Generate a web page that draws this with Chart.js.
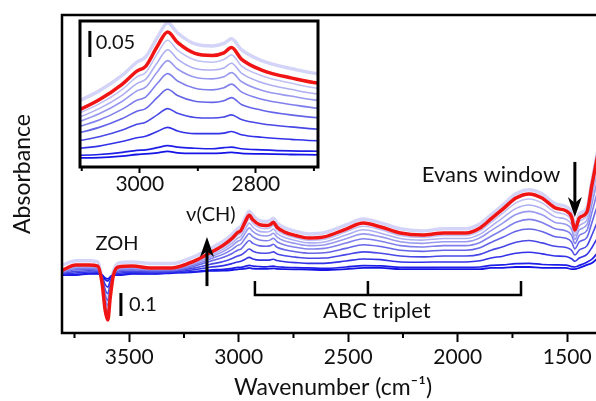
<!DOCTYPE html>
<html>
<head>
<meta charset="utf-8">
<script src="https://cdn.jsdelivr.net/npm/chart.js@4.4.1/dist/chart.umd.min.js"></script>
<style>
  html, body { margin: 0; padding: 0; background: #fff; overflow: hidden; }
  #wrap { position: relative; width: 596px; height: 401px; overflow: hidden; }
  #main { position: absolute; left: 0; top: 0; }
  #inset { position: absolute; left: 70px; top: 11px; }
</style>
</head>
<body>
<div id="wrap">
  <canvas id="main" width="604" height="401"></canvas>
  <canvas id="inset" width="260" height="190"></canvas>
</div>
<script>
// wavenumber (cm-1)
const wavenumbers = [3804, 3744, 3684, 3644, 3624, 3610, 3598, 3587, 3573, 3550, 3485, 3404, 3304, 3204, 3133,
  3070, 3030, 3005, 2990, 2970, 2952, 2935, 2905, 2875, 2855, 2842, 2825, 2790, 2740, 2680,
  2610, 2510, 2431, 2351, 2262, 2162, 2063, 1963, 1898, 1848, 1794, 1734, 1674, 1615, 1555,
  1505, 1480, 1465, 1445, 1410, 1387, 1365, 1336];

// tick positions
const mainTicks = [3750, 3500, 3250, 3000, 2750, 2500, 2250, 2000, 1750, 1500];
const mainLabels = [3500, 3000, 2500, 2000, 1500];
const insetTicks = [3100, 3000, 2900, 2800, 2700];
const insetLabels = [3000, 2800];

// difference spectra, milli-absorbance, first dose (dark blue) up to last (red)
const run0 = [-22, -22, -17, -17, -22, -35, -39, -30, -22, -22, -17, -17, -13, -9, -4,
  -3, 0, 3, 4, 6, 9, 6, 5, 5, 6, 7, 5, 4, 3, 2,
  0, 4, 9, 9, 4, 4, 4, 4, 4, 9, 9, 13, 13, 9, 9,
  9, 4, 4, 9, 22, 30, 48, 65];
const run1 = [-21, -20, -15, -15, -24, -42, -48, -35, -22, -20, -15, -16, -12, -7, 0,
  3, 7, 11, 12, 16, 20, 17, 15, 14, 16, 17, 14, 12, 10, 9,
  7, 13, 19, 18, 12, 11, 12, 12, 13, 20, 22, 28, 29, 24, 22,
  21, 15, 13, 20, 34, 47, 70, 92];
const run2 = [-18, -13, -9, -10, -29, -63, -75, -48, -23, -15, -10, -12, -9, 1, 12,
  19, 28, 35, 38, 47, 55, 48, 43, 43, 44, 47, 41, 36, 32, 29,
  29, 39, 48, 45, 35, 34, 35, 35, 40, 52, 60, 73, 77, 70, 61,
  59, 49, 38, 52, 68, 98, 134, 174];
const run3 = [-14, -6, -3, -5, -35, -85, -103, -63, -23, -9, -5, -8, -5, 8, 24,
  37, 50, 61, 65, 79, 91, 82, 74, 73, 75, 79, 70, 62, 56, 51,
  52, 67, 79, 73, 61, 57, 61, 61, 68, 86, 101, 121, 128, 118, 103,
  98, 86, 65, 87, 105, 152, 203, 261];
const run4 = [-11, 1, 3, 1, -40, -107, -132, -78, -24, -4, 1, -3, -2, 16, 37,
  55, 72, 86, 91, 112, 128, 116, 105, 103, 106, 112, 99, 88, 79, 73,
  75, 94, 110, 102, 86, 81, 86, 86, 97, 120, 142, 169, 178, 167, 145,
  138, 122, 92, 122, 142, 207, 272, 348];
const run5 = [-8, 7, 8, 5, -45, -125, -155, -90, -25, 1, 5, 0, 1, 22, 47,
  69, 90, 107, 113, 139, 158, 144, 130, 127, 131, 138, 123, 109, 99, 91,
  94, 117, 136, 125, 106, 100, 106, 106, 120, 147, 175, 208, 220, 207, 179,
  170, 152, 115, 150, 172, 251, 328, 419];
const run6 = [-5, 11, 13, 9, -49, -141, -175, -100, -25, 5, 9, 3, 4, 28, 55,
  81, 105, 125, 132, 161, 183, 167, 151, 148, 152, 160, 143, 126, 115, 106,
  109, 136, 157, 144, 123, 116, 123, 123, 140, 171, 204, 241, 255, 240, 207,
  198, 177, 133, 174, 197, 288, 376, 478];
const run7 = [-3, 15, 16, 12, -52, -153, -191, -108, -25, 8, 12, 5, 6, 32, 62,
  91, 117, 139, 147, 179, 204, 186, 168, 165, 169, 178, 159, 141, 128, 118,
  122, 152, 175, 160, 137, 130, 137, 137, 156, 190, 227, 268, 283, 267, 231,
  220, 197, 149, 193, 218, 319, 414, 527];
const run8 = [-1, 19, 19, 15, -55, -164, -206, -116, -26, 11, 15, 7, 8, 36, 69,
  100, 128, 152, 160, 196, 222, 203, 184, 180, 185, 194, 173, 154, 140, 129,
  134, 166, 190, 175, 150, 142, 150, 150, 170, 207, 247, 292, 309, 292, 252,
  240, 215, 162, 211, 236, 346, 449, 571];
const runLast = [0, 22, 22, 17, -57, -174, -218, -122, -26, 13, 17, 9, 9, 39, 74,
  108, 138, 163, 172, 210, 238, 218, 197, 193, 198, 208, 186, 165, 150, 139,
  144, 178, 204, 187, 161, 152, 161, 161, 183, 222, 265, 313, 331, 313, 270,
  257, 231, 174, 226, 252, 370, 479, 609];
const runPale = [22, 40, 40, 35, -35, -110, -140, -70, -8, 30, 35, 28, 28, 58, 92,
  125, 155, 180, 190, 227, 255, 236, 215, 211, 216, 225, 204, 183, 168, 157,
  162, 196, 222, 205, 179, 170, 179, 179, 201, 240, 283, 331, 349, 331, 288,
  275, 249, 192, 244, 270, 388, 497, 627];

const FONT = 'Lato, "Open Sans", sans-serif';

function makeSets() {
  const list = [
    [runLast, '#f01414', 3.5],
    [run8, '#c0c0f5', 1.6], [run7, '#aeaef2', 1.6], [run6, '#9898ef', 1.6],
    [run5, '#8080ec', 1.6], [run4, '#6464e8', 1.6], [run3, '#4848e6', 1.6],
    [run2, '#3232e6', 1.6], [run1, '#1e1ee8', 1.7], [run0, '#1414e6', 1.8],
    [runPale, '#d4d4f8', 3.5]
  ];
  return list.map(([arr, col, w]) => ({
    data: wavenumbers.map((x, i) => ({ x: x, y: arr[i] / 1000 })),
    borderColor: col,
    borderWidth: w,
    pointRadius: 0,
    fill: false,
    cubicInterpolationMode: 'monotone'
  }));
}

function arrow(ctx, x, yTail, yTip) {
  const dir = Math.sign(yTip - yTail);
  const head = 20, half = 7;
  ctx.lineWidth = 3;
  ctx.beginPath();
  ctx.moveTo(x, yTail);
  ctx.lineTo(x, yTip - dir * head * 0.7);
  ctx.stroke();
  ctx.beginPath();
  ctx.moveTo(x, yTip);
  ctx.lineTo(x - half, yTip - dir * head);
  ctx.lineTo(x, yTip - dir * head * 0.7);
  ctx.lineTo(x + half, yTip - dir * head);
  ctx.closePath();
  ctx.fill();
}

// white plot area, black frame, short minor ticks
const frame = {
  id: 'frame',
  beforeDraw(chart) {
    const { ctx, chartArea: a } = chart;
    ctx.save();
    ctx.fillStyle = '#fff';
    ctx.fillRect(a.left, a.top, a.right - a.left, a.bottom - a.top);
    ctx.restore();
  },
  afterDraw(chart, args, opts) {
    const { ctx, chartArea: a } = chart;
    const sx = chart.scales.x;
    ctx.save();
    ctx.strokeStyle = '#000';
    ctx.lineWidth = 2;
    (opts.minor || []).forEach(v => {
      const x = sx.getPixelForValue(v);
      ctx.beginPath();
      ctx.moveTo(x, a.bottom);
      ctx.lineTo(x, a.bottom + opts.minorLen);
      ctx.stroke();
    });
    ctx.lineWidth = opts.width || 2.5;
    ctx.strokeRect(a.left, a.top, a.right - a.left, a.bottom - a.top);
    ctx.restore();
  }
};

const mainNotes = {
  id: 'mainNotes',
  afterDraw(chart) {
    const { ctx } = chart;
    const X = v => chart.scales.x.getPixelForValue(v);
    const Y = v => chart.scales.y.getPixelForValue(v);
    ctx.save();
    ctx.fillStyle = '#111';
    ctx.strokeStyle = '#000';
    ctx.textBaseline = 'middle';
    ctx.textAlign = 'center';
    ctx.font = '20px ' + FONT;
    ctx.fillText('ZOH', X(3556), Y(0.117));
    ctx.fillText('ν(CH)', X(3127), Y(0.239));
    ctx.font = '22px ' + FONT;
    ctx.fillText('Evans window', X(1848), Y(0.413));
    ctx.fillText('ABC triplet', X(2369), Y(-0.178));
    ctx.font = '20px ' + FONT;
    ctx.textAlign = 'left';
    ctx.fillText('0.1', X(3501), Y(-0.152));
    // scale bar
    ctx.lineWidth = 3;
    ctx.beginPath();
    ctx.moveTo(X(3538), Y(-0.1));
    ctx.lineTo(X(3538), Y(-0.2));
    ctx.stroke();
    // ABC bracket
    ctx.lineWidth = 2.5;
    ctx.beginPath();
    ctx.moveTo(X(2926), Y(-0.048));
    ctx.lineTo(X(2926), Y(-0.109));
    ctx.lineTo(X(1711), Y(-0.109));
    ctx.lineTo(X(1711), Y(-0.048));
    ctx.moveTo(X(2410), Y(-0.109));
    ctx.lineTo(X(2410), Y(-0.048));
    ctx.stroke();
    ctx.fillStyle = '#000';
    arrow(ctx, X(3145), Y(-0.070), Y(0.144));
    arrow(ctx, X(1465), Y(0.470), Y(0.231));
    ctx.restore();
  }
};

const insetNotes = {
  id: 'insetNotes',
  afterDraw(chart) {
    const { ctx } = chart;
    const X = v => chart.scales.x.getPixelForValue(v);
    const Y = v => chart.scales.y.getPixelForValue(v);
    ctx.save();
    ctx.strokeStyle = '#000';
    ctx.lineWidth = 3;
    ctx.beginPath();
    ctx.moveTo(X(3086), Y(0.19));
    ctx.lineTo(X(3086), Y(0.24));
    ctx.stroke();
    ctx.fillStyle = '#111';
    ctx.font = '20px ' + FONT;
    ctx.textBaseline = 'middle';
    ctx.textAlign = 'left';
    ctx.fillText('0.05', X(3076), Y(0.217));
    ctx.restore();
  }
};

function xAxis(min, max, ticks, labels, height, tickLen, pad) {
  return {
    type: 'linear', reverse: true, min: min, max: max, bounds: 'data',
    afterFit: s => { s.height = height; },
    afterBuildTicks: s => { s.ticks = ticks.map(v => ({ value: v })); },
    ticks: {
      autoSkip: false, maxRotation: 0, minRotation: 0, padding: pad, color: '#111',
      font: { family: FONT, size: 21 },
      callback: v => (labels.includes(v) ? String(v) : '')
    },
    grid: {
      display: true, drawOnChartArea: false, drawTicks: true, tickLength: tickLen, tickWidth: 2,
      tickColor: c => (c.tick && labels.includes(c.tick.value) ? '#000' : 'rgba(0,0,0,0)')
    },
    border: { display: false }
  };
}

const mainX = xAxis(1332, 3807, mainTicks, mainLabels, 68, 9, 3);
mainX.title = { display: true, text: 'Wavenumber (cm⁻¹)', color: '#111', font: { family: FONT, size: 23 }, padding: { top: 0, bottom: 0 } };

new Chart(document.getElementById('main'), {
  type: 'line',
  data: { datasets: makeSets() },
  options: {
    responsive: false,
    animation: false,
    devicePixelRatio: 1,
    layout: { padding: { top: 15, right: 0, left: 0, bottom: 0 } },
    plugins: {
      legend: { display: false }, tooltip: { enabled: false },
      frame: { width: 2.5, minor: mainTicks.filter(v => !mainLabels.includes(v)), minorLen: 5 }
    },
    scales: {
      x: mainX,
      y: {
        min: -0.274, max: 1.109,
        afterFit: s => { s.width = 62; },
        ticks: { display: false },
        grid: { display: false },
        border: { display: false },
        title: { display: true, text: 'Absorbance', color: '#111', font: { family: FONT, size: 23 }, padding: { top: 9, bottom: 0 } }
      }
    }
  },
  plugins: [frame, mainNotes]
});

new Chart(document.getElementById('inset'), {
  type: 'line',
  data: { datasets: makeSets() },
  options: {
    responsive: false,
    animation: false,
    devicePixelRatio: 1,
    layout: { padding: { top: 10, right: 12, left: 10, bottom: 0 } },
    plugins: {
      legend: { display: false }, tooltip: { enabled: false },
      frame: { width: 3, minor: insetTicks.filter(v => !insetLabels.includes(v)), minorLen: 4 }
    },
    scales: {
      x: xAxis(2693, 3103, insetTicks, insetLabels, 34, 6, -1),
      y: { display: false, min: -0.021, max: 0.259 }
    }
  },
  plugins: [frame, insetNotes]
});
</script>
</body>
</html>
